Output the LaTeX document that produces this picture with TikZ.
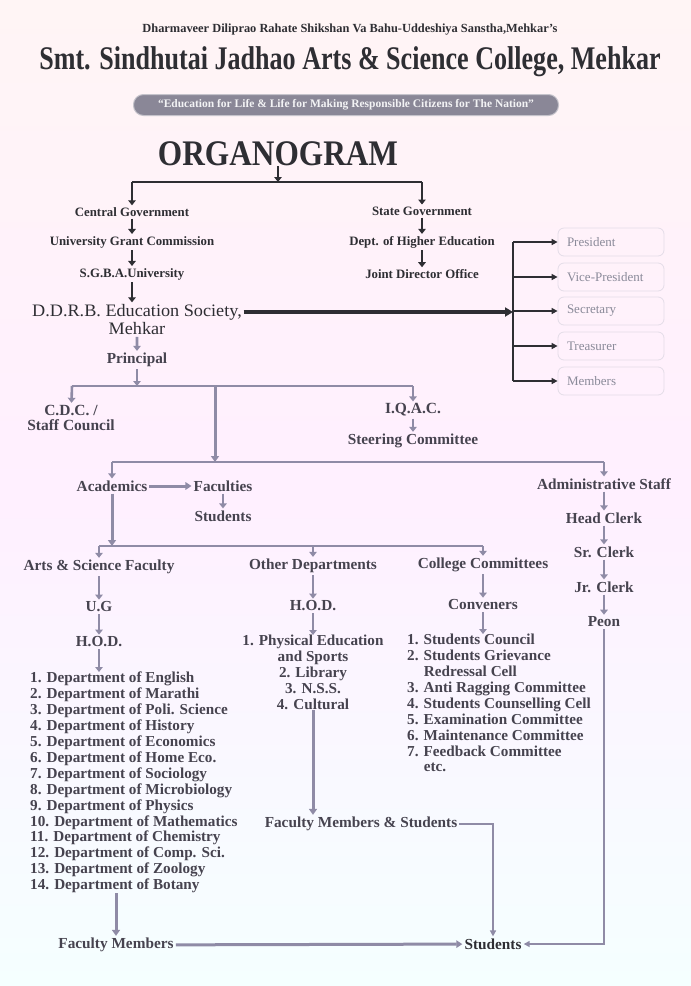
\documentclass[tikz,border=0pt]{standalone}
\usepackage{fontspec}
\setmainfont{Liberation Serif}
\usetikzlibrary{arrows.meta}
\definecolor{ink}{HTML}{2E2E33}
\definecolor{inkb}{HTML}{46434F}
\definecolor{lav}{HTML}{8F8BA6}
\definecolor{boxtxt}{HTML}{8A8A99}
\definecolor{boxln}{HTML}{E4DDE8}
\definecolor{bann}{HTML}{8A8797}
\begin{document}
\begin{tikzpicture}[x=1pt,y=-1pt,
  lbl/.style={font=\bfseries\fontsize{12.8}{14}\selectfont, text=ink, inner sep=2pt},
  lblm/.style={font=\bfseries\fontsize{15.3}{16.5}\selectfont, text=inkb, inner sep=2pt},
  soc/.style={font=\fontsize{17.5}{19}\selectfont, text=ink, inner sep=1.5pt, xscale=1.04},
  lst/.style={font=\bfseries\fontsize{15.2}{15.9}\selectfont, text=inkb, inner sep=0pt},
  box/.style={draw=boxln, line width=0.8pt, rounded corners=6pt, text width=88pt, inner xsep=9pt, minimum height=28pt, align=left, text=boxtxt, font=\fontsize{13}{14}\selectfont},
  ln/.style={line width=2.2pt, draw=lav},
  lnk/.style={line width=2.4pt, draw=ink},
  dn/.style={line width=2.6pt, draw=lav, -{Triangle[width=7.5pt,length=5pt]}},
  dnk/.style={line width=2.6pt, draw=ink, -{Triangle[width=7.5pt,length=5pt]}},
  dnt/.style={line width=3pt, draw=lav, -{Triangle[width=8pt,length=6pt]}},
  ra/.style={line width=1.8pt, draw=ink, -{Triangle[width=6pt,length=6pt]}},
  big/.style={line width=4pt, draw=ink, -{Triangle[width=9pt,length=8pt]}},
  dbl/.style={line width=3pt, draw=lav, -{Triangle[width=7.5pt,length=6pt]}},
  lna/.style={line width=1.8pt, draw=lav, -{Triangle[width=6pt,length=6pt]}}
]
\useasboundingbox (0,0) rectangle (691,986);
\shade[top color=white!60!pink!40, bottom color=cyan!4, middle color=magenta!6] (0,0) rectangle (691,986);

% header
\node[font=\bfseries\fontsize{12.4}{14}\selectfont, text=ink] (h1) at (350,30) {Dharmaveer Diliprao Rahate Shikshan Va Bahu-Uddeshiya Sanstha,Mehkar's};
\node[font=\bfseries\fontsize{33}{36}\selectfont, text=ink, xscale=0.79] (h2) at (350,62) {Smt. Sindhutai Jadhao Arts \& Science College, Mehkar};
\node[fill=bann, draw=bann!50, line width=1pt, rounded corners=10pt, minimum width=425pt, minimum height=21pt, inner sep=0pt, text=white!90!bann, font=\bfseries\fontsize{11.5}{12}\selectfont] (h3) at (346,105) {“Education for Life \& Life for Making Responsible Citizens for The Nation”};

\node[font=\bfseries\fontsize{36}{40}\selectfont, text=ink, xscale=0.87, inner sep=0pt] (org) at (278,154) {ORGANOGRAM};

% top branch
\coordinate (j1) at (278,182);
\coordinate (j1l) at (132,182);
\coordinate (j1r) at (422,182);
\node[lbl] (cg) at (132,212) {Central Government};
\node[lbl] (ugc) at (132,242) {University Grant Commission};
\node[lbl] (sgba) at (132,274) {S.G.B.A.University};
\node[lbl] (sg) at (422,211) {State Government};
\node[lbl] (dhe) at (422,242) {Dept. of Higher Education};
\node[lbl] (jdo) at (422,274) {Joint Director Office};
\draw[lnk] (j1l) -- (j1r);
\draw[dnk] (org) -- (j1);
\draw[dnk] (j1l) -- (cg);
\draw[dnk] (j1r) -- (sg);
\draw[dnk] (cg) -- (ugc);
\draw[dnk] (ugc) -- (sgba);
\draw[dnk] (sg) -- (dhe);
\draw[dnk] (dhe) -- (jdo);

\node[soc] (ddrb) at (137,312) {D.D.R.B. Education Society,};
\node[soc] (mek) at (137,329) {Mehkar};
\draw[dnk] (sgba) -- (sgba |- ddrb.north);

% society board
\node[box] (pres) at (611,242) {President};
\node[box] (vp) at (611,277) {Vice-President};
\node[box] (sec) at (611,311) {Secretary};
\node[box] (tre) at (611,346) {Treasurer};
\node[box] (mem) at (611,381) {Members};
\coordinate (bt) at (513,242);
\coordinate (bb) at (513,381);
\draw[line width=1.8pt, draw=ink] (bt) -- (bb);
\draw[ra] (pres.west -| bt) -- (pres.west);
\draw[ra] (vp.west -| bt) -- (vp.west);
\draw[ra] (sec.west -| bt) -- (sec.west);
\draw[ra] (tre.west -| bt) -- (tre.west);
\draw[ra] (mem.west -| bt) -- (mem.west);
\draw[big] (ddrb.east) -- (ddrb.east -| bt);

% principal
\node[lblm] (prin) at (137,360) {Principal};
\draw[dn] (mek) -- (prin);
\coordinate (j2) at (137,386);
\coordinate (j2l) at (72,386);
\coordinate (j2r) at (413,386);
\coordinate (j2m) at (215,386);
\node[lblm, align=center, font=\bfseries\fontsize{15.5}{15.5}\selectfont] (cdc) at (71,418) {C.D.C. /\\Staff Council};
\node[lblm, font=\bfseries\fontsize{15.5}{16}\selectfont] (iqac) at (413,410) {I.Q.A.C.};
\node[lblm] (steer) at (413,441) {Steering Committee};
\draw[ln] (j2l) -- (j2r);
\draw[dn] (prin) -- (j2);
\draw[dn] (j2l) -- (cdc);
\draw[dn] (j2r) -- (iqac);
\draw[dn] (iqac) -- (steer);

% academics / admin
\coordinate (j3m) at (215,462);
\coordinate (j3l) at (112,462);
\coordinate (j3r) at (604,462);
\draw[ln] (j3l) -- (j3r);
\draw[dnt] (j2m) -- (j3m);
\node[lblm] (acad) at (112,486) {Academics};
\node[lblm] (fac) at (223,486) {Faculties};
\node[lblm] (stu1) at (223,516) {Students};
\node[lblm] (adm) at (604,484) {Administrative Staff};
\node[lblm] (hc) at (604,518) {Head Clerk};
\node[lblm] (sr) at (604,552) {Sr. Clerk};
\node[lblm] (jr) at (604,587) {Jr. Clerk};
\node[lblm] (peon) at (604,622) {Peon};
\draw[dn] (j3l) -- (acad);
\draw[dn] (j3r) -- (adm);
\draw[dbl] (acad) -- (fac);
\draw[dn] (fac) -- (stu1);
\draw[dn] (adm) -- (hc);
\draw[dn] (hc) -- (sr);
\draw[dn] (sr) -- (jr);
\draw[dn] (jr) -- (peon);

% faculty branch
\coordinate (j4a) at (112,546);
\coordinate (j4l) at (99,546);
\coordinate (j4m) at (313,546);
\coordinate (j4r) at (483,546);
\draw[dnt] (acad) -- (j4a);
\draw[ln] (j4l) -- (j4r);
\node[lblm] (asf) at (99,567) {Arts \& Science Faculty};
\node[lblm] (ug) at (99,607) {U.G};
\node[lblm] (hod1) at (99,642) {H.O.D.};
\node[lblm] (od) at (313,566) {Other Departments};
\node[lblm] (hod2) at (313,606) {H.O.D.};
\node[lblm] (cc) at (483,565) {College Committees};
\node[lblm] (conv) at (483,605) {Conveners};
\draw[dn] (j4l) -- (asf);
\draw[dn] (j4m) -- (od);
\draw[dn] (j4r) -- (cc);
\draw[dn] (asf) -- (ug);
\draw[dn] (ug) -- (hod1);
\draw[dn] (od) -- (hod2);
\draw[dn] (cc) -- (conv);

\node[lst, anchor=north west, align=left] (l1) at (30,672) {1. Department of English\\2. Department of Marathi\\3. Department of Poli. Science\\4. Department of History\\5. Department of Economics\\6. Department of Home Eco.\\7. Department of Sociology\\8. Department of Microbiology\\9. Department of Physics\\10. Department of Mathematics\\11. Department of Chemistry\\12. Department of Comp. Sci.\\13. Department of Zoology\\14. Department of Botany};
\node[lst, anchor=north, align=center] (l2) at (313,635) {1. Physical Education\\and Sports\\2. Library\\3. N.S.S.\\4. Cultural};
\node[lst, anchor=north west, align=left] (l3) at (407,634) {1. Students Council\\2. Students Grievance\\\hspace*{1.1em}Redressal Cell\\3. Anti Ragging Committee\\4. Students Counselling Cell\\5. Examination Committee\\6. Maintenance Committee\\7. Feedback Committee\\\hspace*{1.1em}etc.};
\draw[dn] (hod1) -- (l1.north -| hod1);
\draw[dn] (hod2) -- (l2.north);
\draw[dn] (conv) -- (l3.north -| conv);

% bottom
\node[lblm] (fm) at (116,945) {Faculty Members};
\node[lblm, text=ink] (stud) at (493,944) {Students};
\node[lblm] (fms) at (361,824) {Faculty Members \& Students};
\draw[dnt] (l1.south -| fm) -- (fm);
\draw[dnt] (l2.south) -- (l2.south |- fms.north);
\draw[dbl] (fm) -- (stud);
\draw[lna] (fms.east) -| (stud.north);
\draw[lna] (peon.south) |- (stud.east);
\end{tikzpicture}
\end{document}
